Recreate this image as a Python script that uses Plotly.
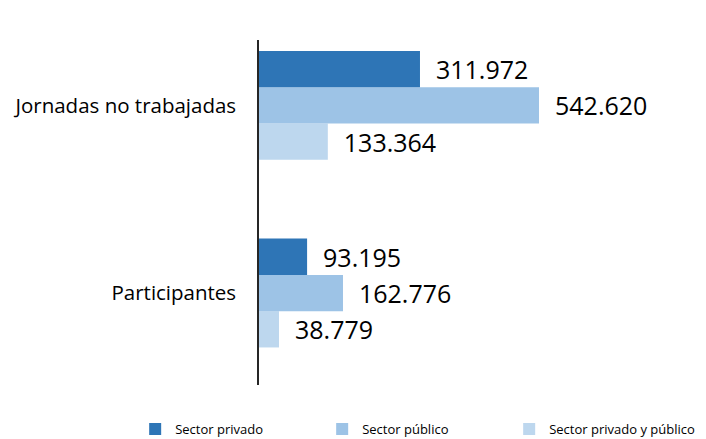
import plotly.graph_objects as go

categories = ["Participantes", "Jornadas no trabajadas"]
series_names = ["Sector privado", "Sector público", "Sector privado y público"]
privado = [93195, 311972]
publico = [162776, 542620]
mixto = [38779, 133364]
colors = ["#2E75B6", "#9DC3E6", "#BDD7EE"]

fig = go.Figure()
# horizontal grouped bars: first trace drawn at bottom of each group
for name, vals, col, rank in [
    (series_names[2], mixto, colors[2], 3),
    (series_names[1], publico, colors[1], 2),
    (series_names[0], privado, colors[0], 1),
]:
    fig.add_trace(go.Bar(
        y=categories, x=vals, name=name, orientation="h",
        marker=dict(color=col, line=dict(width=0)),
        text=vals, texttemplate="\u00a0\u00a0%{x:,.0f}", textposition="outside",
        cliponaxis=False,
        textfont=dict(family="Open Sans", size=25, color="#000000"),
        legendrank=rank,
    ))

fig.update_layout(
    width=706, height=439,
    margin=dict(l=259, r=20, t=40, b=54, autoexpand=False),
    paper_bgcolor="white", plot_bgcolor="white",
    barmode="group", bargap=0.42, bargroupgap=0,
    separators=",.",
    font=dict(family="Open Sans", color="#000000"),
    showlegend=True,
    legend=dict(orientation="h", x=-0.29, xanchor="left", y=-0.128, yanchor="middle",
                entrywidth=142, entrywidthmode="pixels",
                font=dict(size=13, color="#000000"), itemwidth=30),
    xaxis=dict(range=[0, 827500], visible=False, automargin=False),
    yaxis=dict(range=[-0.49, 1.348], showline=True, linecolor="#262626", linewidth=1.5,
               ticks="", ticklabelstandoff=17, automargin=False,
               tickfont=dict(size=20.5, color="#000000"), showgrid=False, zeroline=False),
)

fig.write_html(
    "out.html",
    config={"displayModeBar": False},
    post_script="document.body.style.margin='0';document.body.style.overflow='hidden';",
)
